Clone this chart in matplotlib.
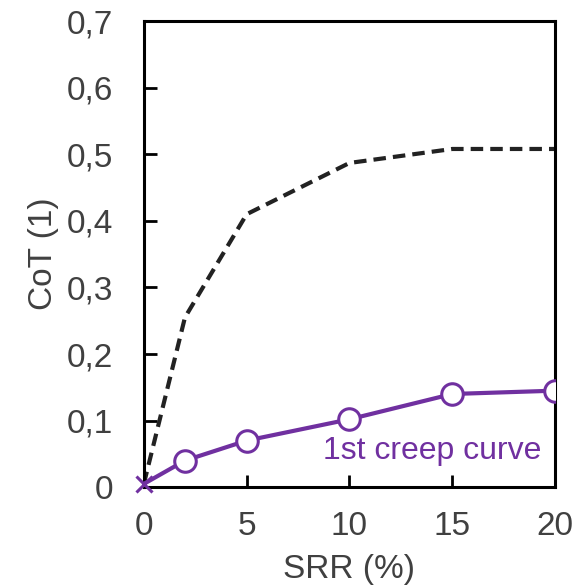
import matplotlib
matplotlib.use("Agg")
import matplotlib.pyplot as plt
from matplotlib.ticker import FuncFormatter

# data
srr = [0, 2, 5, 10, 15, 20]
cot_dashed = [0.005, 0.255, 0.41, 0.487, 0.508, 0.508]
cot_creep = [0.005, 0.04, 0.07, 0.102, 0.14, 0.145]

PURPLE = "#7030A0"
GREY = "#404040"

plt.rcParams["font.family"] = ["Liberation Sans", "DejaVu Sans"]

fig = plt.figure(figsize=(5.8, 5.87), dpi=100)
ax = fig.add_axes([0.248, 0.170, 0.709, 0.794])

ax.plot(srr, cot_dashed, color="#222222", lw=3, ls=(0, (3, 1.7)), zorder=2)
ax.plot(srr, cot_creep, color=PURPLE, lw=3, zorder=3)
ax.plot(srr[1:], cot_creep[1:], ls="none", marker="o", ms=15.5,
        mfc="white", mec=PURPLE, mew=2.2, zorder=4)
ax.plot(srr[:1], cot_creep[:1], ls="none", marker="x", ms=12,
        mec=PURPLE, mew=2.2, zorder=4, clip_on=False)

ax.text(19.35, 0.055, "1st creep curve", color=PURPLE, fontsize=23,
        ha="right", va="center")

ax.set_xlim(0, 20)
ax.set_ylim(0, 0.7)
ax.set_xticks([0, 5, 10, 15, 20])
ax.set_yticks([0, 0.1, 0.2, 0.3, 0.4, 0.5, 0.6, 0.7])
ax.yaxis.set_major_formatter(FuncFormatter(
    lambda v, p: "0" if v == 0 else f"{v:.1f}".replace(".", ",")))

ax.tick_params(direction="in", length=9, width=2, labelsize=24,
               labelcolor=GREY)
ax.tick_params(axis="x", pad=17)
ax.tick_params(axis="y", pad=22)
for s in ax.spines.values():
    s.set_linewidth(2.2)

ax.set_xlabel("SRR (%)", fontsize=24, color=GREY, labelpad=9)
ax.set_ylabel("CoT (1)", fontsize=24, color=GREY, labelpad=6)

fig.savefig("out.png", dpi=100)
